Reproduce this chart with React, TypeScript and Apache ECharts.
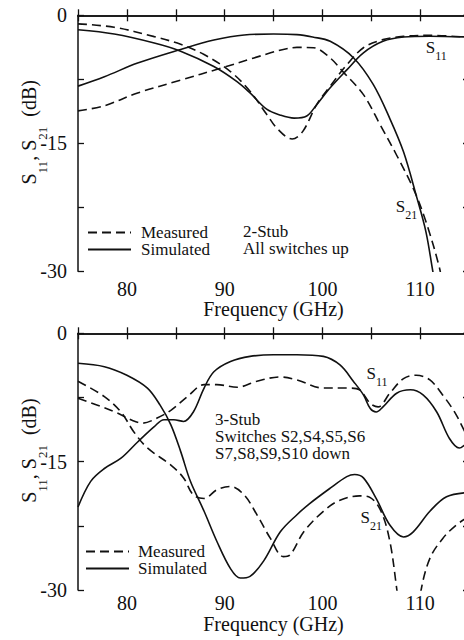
import React, { useEffect, useRef } from "react";
import * as echarts from "echarts";

const FONT = "Liberation Serif, Times New Roman, serif";
const INK = "#111111";

// axis ranges
const freqMin = 75;
const freqMax = 115;
const freqStep = 5;
const dbMin = -30;
const dbMax = 0;
const dbStep = 7.5;

const legendNames = ["Measured", "Simulated"];
const xAxisTitle = "Frequency (GHz)";
const topNote = ["2-Stub", "All switches up"];
const bottomNote = ["3-Stub", "Switches S2,S4,S5,S6", "S7,S8,S9,S10 down"];

// ---- Panel 1: 2-Stub, all switches up  [GHz, dB]
const stub2S11Sim: [number, number][] = [
  [75, -1.7], [78.7, -2.2], [82.8, -3.25], [85.5, -4.2], [88.9, -6.0], [91.3, -7.8],
  [92.6, -9.1], [94.3, -11.0], [95.7, -11.7], [97.1, -12.05], [98.4, -11.8], [99.4, -10.5],
  [100.8, -8.5], [102.5, -6.4], [104.2, -4.4], [106.2, -3.05], [108.3, -2.55], [111, -2.45],
  [115, -2.55],
];
const stub2S11Meas: [number, number][] = [
  [75, -1.0], [78.7, -1.4], [82.8, -2.5], [85.5, -3.4], [87.9, -4.6], [90.6, -6.6],
  [92.6, -8.9], [94.3, -11.6], [95.4, -13.3], [96.9, -14.5], [98, -13.6], [99.4, -10.5],
  [100.8, -8.3], [102.5, -5.8], [104.2, -3.8], [106.2, -2.85], [108.3, -2.47], [111, -2.35],
  [115, -2.6],
];
const stub2S21Sim: [number, number][] = [
  [75, -8.3], [77.7, -7.2], [81.1, -5.6], [85.5, -4.0], [88.9, -2.9], [92, -2.3],
  [95, -2.2], [97.4, -2.27], [99, -2.55], [100.8, -3.05], [103.2, -5.0], [105.2, -8.1],
  [106.9, -12.1], [108.3, -16.0], [109.6, -21.1], [110.6, -25.4], [111.3, -30], [111.8, -33],
];
const stub2S21Meas: [number, number][] = [
  [75, -11.2], [77.7, -10.6], [81.1, -9.1], [85.5, -7.6], [89.6, -6.2], [93, -5.0],
  [94.7, -4.4], [96, -4.0], [97.4, -3.76], [99.1, -3.8], [100.8, -5.0], [102.1, -6.6],
  [104.2, -9.3], [105.9, -12.8], [107.6, -16.4], [109.3, -20.3], [110.6, -24.2], [112, -29.7],
  [112.3, -32],
];

// ---- Panel 2: 3-Stub, switches down
const stub3S11Sim: [number, number][] = [
  [75, -20.3], [76.3, -17.3], [77.7, -15.8], [79.4, -14.6], [81.1, -12.7], [82.8, -10.9],
  [83.8, -10.1], [84.8, -10.1], [85.8, -10.3], [86.8, -9.2], [87.9, -6.4], [88.9, -4.5],
  [90.6, -3.3], [92.6, -2.7], [95, -2.5], [97.4, -2.5], [100.1, -2.7], [101.8, -3.7],
  [103.2, -5.65], [104.2, -7.2], [104.9, -8.8], [105.5, -9.2], [106.2, -8.6], [107.6, -7.0],
  [109, -6.6], [110.3, -7.2], [111.7, -9.2], [113, -12.3], [114, -13.4], [115, -12.5],
];
const stub3S11Meas: [number, number][] = [
  [75, -7.6], [77, -8.4], [79, -9.3], [80.4, -10.1], [81.6, -10.5], [83.1, -9.9],
  [84.5, -9.0], [86.2, -7.4], [87.9, -6.0], [89.2, -6.0], [91.3, -6.3], [93.3, -5.6],
  [95.7, -5.1], [97.4, -5.45], [100.1, -6.4], [102.8, -6.4], [103.8, -6.6], [104.9, -8.2],
  [105.7, -8.6], [106.9, -7.0], [108.3, -5.3], [109.6, -4.9], [111, -5.45], [112.3, -7.2],
  [113.5, -9.15], [114.4, -11.1], [115, -12.5],
];
const stub3S21Sim: [number, number][] = [
  [75, -3.5], [77.7, -3.9], [80, -4.9], [82.1, -6.4], [83.4, -8.4], [84.5, -10.7],
  [85.5, -13.8], [86.5, -17.3], [87.9, -20.8], [89.2, -24.3], [90.6, -27.5], [91.6, -28.6],
  [92.6, -28.4], [94, -26.6], [95.7, -23.2], [97.4, -21.2], [98.7, -19.9], [100.8, -18.1],
  [102.5, -16.75], [103.3, -16.5], [104.2, -16.9], [105.5, -19.3], [106.9, -22.4], [108.3, -23.8],
  [109.3, -23.2], [111, -20.8], [112.7, -19.1], [115, -18.6],
];
const stub3S21Meas: [number, number][] = [
  [75, -5.6], [77.7, -7.4], [79.4, -9.2], [80.7, -11.5], [82.1, -13.4], [84.5, -15.4],
  [85.8, -16.9], [86.8, -18.9], [87.9, -19.3], [89.2, -18.3], [90.6, -17.9], [92, -18.9],
  [93.3, -21.2], [94.7, -24.0], [96, -26.1], [96.7, -25.9], [98.1, -23.2], [100.1, -20.8],
  [101.8, -19.5], [103.8, -19.0], [104.9, -19.2], [106, -20.8], [106.9, -24.3], [107.6, -29.8],
  [108.3, -36], [109.2, -37], [110.1, -30], [111, -26.3], [112.3, -24.0], [113.7, -22.4],
  [115, -21.4],
];

// curve labels [GHz, dB]
const labelS11Top: [number, number] = [111.65, -4.07];
const labelS21Top: [number, number] = [108.6, -22.7];
const labelS11Bottom: [number, number] = [105.6, -5.08];
const labelS21Bottom: [number, number] = [105.0, -21.82];

const subRich = {
  s: { fontFamily: FONT, fontSize: 17, color: INK, lineHeight: 23, verticalAlign: "top" },
  sub: { fontFamily: FONT, fontSize: 12, color: INK, lineHeight: 12, verticalAlign: "bottom" },
};

function curveLabel(coord: [number, number], idx: string) {
  return {
    coord,
    value: idx,
    label: {
      show: true,
      position: "inside",
      formatter: `{s|S}{sub|${idx}}`,
      rich: subRich,
    },
  };
}

function curve(
  name: string,
  data: [number, number][],
  dashed: boolean,
  axisIdx: number,
  labels?: any[]
) {
  return {
    type: "line",
    name,
    data,
    xAxisIndex: axisIdx,
    yAxisIndex: axisIdx,
    symbol: "none",
    showSymbol: false,
    smooth: 0.35,
    clip: true,
    silent: true,
    lineStyle: { color: INK, width: 1.6, type: dashed ? [9, 5] : "solid" },
    itemStyle: { color: INK },
    emphasis: { disabled: true },
    markPoint: labels
      ? {
          silent: true,
          symbol: "circle",
          symbolSize: 1,
          itemStyle: { color: "rgba(0,0,0,0)" },
          label: { show: true, color: INK },
          data: labels,
        }
      : undefined,
  };
}

const yNameRich = {
  s: { fontFamily: FONT, fontSize: 20, color: INK, lineHeight: 30, verticalAlign: "top" },
  sub: { fontFamily: FONT, fontSize: 13, color: INK, lineHeight: 14, verticalAlign: "bottom" },
};

function axesFor(gridIndex: number, labelMargin: number, nameGapX: number) {
  const axisLine = { show: true, lineStyle: { color: INK, width: 1.5 } };
  const tick = { show: true, inside: true, length: 6, lineStyle: { color: INK, width: 1.3 } };
  const xBottom = {
    type: "value",
    gridIndex,
    min: freqMin,
    max: freqMax,
    interval: freqStep,
    position: "bottom",
    axisLine,
    axisTick: tick,
    splitLine: { show: false },
    axisLabel: {
      margin: labelMargin,
      fontFamily: FONT,
      fontSize: 20,
      color: INK,
      formatter: (v: number) => (v % 10 === 0 ? String(v) : ""),
    },
    name: xAxisTitle,
    nameLocation: "middle",
    nameGap: nameGapX,
    nameMoveOverlap: false,
    nameTextStyle: { fontFamily: FONT, fontSize: 20, color: INK },
  };
  const xTop = {
    type: "value",
    gridIndex,
    min: freqMin,
    max: freqMax,
    interval: freqStep,
    position: "top",
    axisLine,
    axisTick: tick,
    splitLine: { show: false },
    axisLabel: { show: false },
  };
  const yLeft = {
    type: "value",
    gridIndex,
    min: dbMin,
    max: dbMax,
    interval: dbStep,
    position: "left",
    axisLine,
    axisTick: tick,
    splitLine: { show: false },
    axisLabel: {
      margin: 11,
      fontFamily: FONT,
      fontSize: 20,
      color: INK,
      formatter: (v: number) => (v % 15 === 0 ? String(v) : ""),
    },
    name: "{s|S}{sub|11}{s|, S}{sub|21}{s|  (dB)}",
    nameLocation: "middle",
    nameRotate: 90,
    nameGap: 29,
    nameMoveOverlap: false,
    nameTextStyle: { fontFamily: FONT, color: INK, rich: yNameRich, padding: [0, 0, 0, 22] },
  };
  const yRight = {
    type: "value",
    gridIndex,
    min: dbMin,
    max: dbMax,
    interval: dbStep,
    position: "right",
    axisLine,
    axisTick: tick,
    splitLine: { show: false },
    axisLabel: { show: false },
  };
  return { x: [xBottom, xTop], y: [yLeft, yRight] };
}

function legendAt(left: number, top: number, textPad: number) {
  return {
    data: legendNames,
    orient: "vertical",
    left,
    top,
    padding: 0,
    itemWidth: 43,
    itemHeight: 14,
    itemGap: 0,
    selectedMode: false,
    itemStyle: { color: "rgba(0,0,0,0)", borderColor: "rgba(0,0,0,0)", borderWidth: 0 },
    textStyle: { fontFamily: FONT, fontSize: 17, color: INK, lineHeight: 17, padding: [0, 0, 0, textPad] },
  };
}

export default function App() {
  const ref = useRef<HTMLDivElement>(null);
  useEffect(() => {
    if (!ref.current) return;
    const chart = echarts.init(ref.current, undefined, { renderer: "svg" });
    const a1 = axesFor(0, 8, 28);
    const a2 = axesFor(1, 3, 24);
    chart.setOption({
      animation: false,
      backgroundColor: "#ffffff",
      textStyle: { fontFamily: FONT },
      grid: [
        { left: 78, top: 15.3, width: 391, height: 256, outerBoundsMode: "none", containLabel: false },
        { left: 78, top: 333.3, width: 391, height: 256.7, outerBoundsMode: "none", containLabel: false },
      ],
      xAxis: [...a1.x, ...a2.x],
      yAxis: [...a1.y, ...a2.y],
      legend: [legendAt(87, 224, 5), legendAt(85, 543, 4)],
      series: [
        curve("Measured", stub2S11Meas, true, 0),
        curve("Simulated", stub2S11Sim, false, 0, [
          curveLabel(labelS11Top, "11"),
          curveLabel(labelS21Top, "21"),
        ]),
        curve("Measured", stub2S21Meas, true, 0),
        curve("Simulated", stub2S21Sim, false, 0),
        curve("Measured", stub3S11Meas, true, 2),
        curve("Simulated", stub3S11Sim, false, 2, [
          curveLabel(labelS11Bottom, "11"),
          curveLabel(labelS21Bottom, "21"),
        ]),
        curve("Measured", stub3S21Meas, true, 2),
        curve("Simulated", stub3S21Sim, false, 2),
      ],
      graphic: [
        {
          type: "text",
          left: 243,
          top: 223,
          silent: true,
          style: {
            text: topNote.join("\n"),
            font: `17px ${FONT}`,
            lineHeight: 17,
            fill: INK,
          },
        },
        {
          type: "text",
          left: 215,
          top: 411,
          silent: true,
          style: {
            text: bottomNote.join("\n"),
            font: `17px ${FONT}`,
            lineHeight: 17,
            fill: INK,
          },
        },
      ],
    });
    return () => chart.dispose();
  }, []);
  return (
    <div
      ref={ref}
      style={{ position: "fixed", left: 0, top: 0, width: 464, height: 640, background: "#fff" }}
    />
  );
}
